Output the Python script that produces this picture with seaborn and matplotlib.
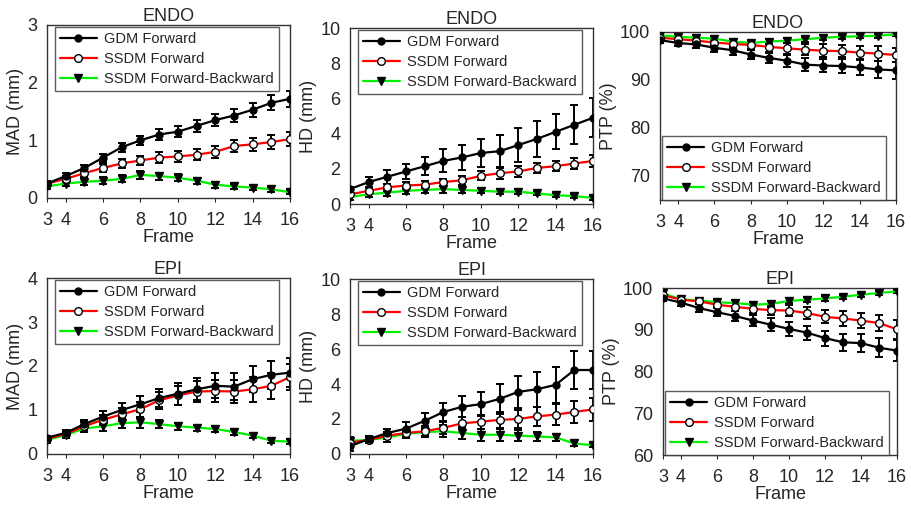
import numpy as np
import pandas as pd
import matplotlib
matplotlib.use('Agg')
import matplotlib.pyplot as plt
from matplotlib.lines import Line2D
import seaborn as sns

sns.set_style('white')
plt.rcParams['font.family'] = ['Liberation Sans', 'DejaVu Sans']

frames = list(range(3, 17))
methods = ['GDM Forward', 'SSDM Forward', 'SSDM Forward-Backward']

# ---- ENDO MAD ----
endo_mad_gdm = [0.25, 0.38, 0.52, 0.70, 0.88, 1.00, 1.10, 1.15, 1.25, 1.35, 1.43, 1.53, 1.65, 1.72]
endo_mad_gdm_err = [0.04, 0.05, 0.06, 0.07, 0.08, 0.08, 0.09, 0.09, 0.10, 0.10, 0.11, 0.12, 0.13, 0.14]
endo_mad_sf = [0.25, 0.33, 0.43, 0.52, 0.60, 0.65, 0.70, 0.72, 0.75, 0.80, 0.90, 0.93, 0.97, 1.02]
endo_mad_sf_err = [0.04, 0.05, 0.06, 0.07, 0.08, 0.08, 0.09, 0.09, 0.10, 0.10, 0.11, 0.11, 0.12, 0.12]
endo_mad_sfb = [0.20, 0.25, 0.28, 0.30, 0.33, 0.40, 0.38, 0.35, 0.30, 0.23, 0.20, 0.18, 0.15, 0.10]
endo_mad_sfb_err = [0.04, 0.05, 0.06, 0.06, 0.06, 0.07, 0.06, 0.06, 0.05, 0.05, 0.05, 0.04, 0.04, 0.03]

# ---- ENDO HD ----
endo_hd_gdm = [0.85, 1.25, 1.55, 1.85, 2.15, 2.45, 2.65, 2.90, 3.00, 3.35, 3.70, 4.10, 4.50, 4.90]
endo_hd_gdm_err = [0.10, 0.30, 0.40, 0.45, 0.50, 0.65, 0.70, 0.80, 0.90, 0.95, 1.00, 1.00, 1.10, 1.10]
endo_hd_sf = [0.55, 0.75, 0.95, 1.05, 1.10, 1.25, 1.35, 1.60, 1.75, 1.85, 2.05, 2.15, 2.30, 2.45]
endo_hd_sf_err = [0.10, 0.15, 0.20, 0.20, 0.20, 0.20, 0.25, 0.25, 0.30, 0.30, 0.30, 0.30, 0.30, 0.35]
endo_hd_sfb = [0.40, 0.55, 0.65, 0.75, 0.80, 0.85, 0.80, 0.75, 0.70, 0.70, 0.60, 0.50, 0.45, 0.35]
endo_hd_sfb_err = [0.15, 0.15, 0.20, 0.20, 0.20, 0.20, 0.20, 0.15, 0.15, 0.15, 0.10, 0.10, 0.10, 0.10]

# ---- ENDO PTP ----
endo_ptp_gdm = [98.3, 97.7, 97.4, 96.7, 96.2, 95.3, 94.6, 94.0, 93.2, 93.0, 92.9, 92.6, 92.2, 92.0]
endo_ptp_gdm_err = [0.5, 0.6, 0.7, 0.8, 0.9, 1.0, 1.1, 1.2, 1.4, 1.4, 1.5, 1.6, 1.7, 1.8]
endo_ptp_sf = [98.8, 98.5, 98.2, 97.8, 97.5, 97.3, 96.9, 96.6, 96.3, 96.1, 96.0, 95.7, 95.5, 95.2]
endo_ptp_sf_err = [0.4, 0.5, 0.6, 0.7, 0.8, 0.9, 1.0, 1.1, 1.2, 1.3, 1.3, 1.4, 1.5, 1.5]
endo_ptp_sfb = [99.3, 99.0, 98.8, 98.6, 98.0, 97.7, 98.0, 98.2, 98.5, 98.8, 99.0, 99.1, 99.2, 99.5]
endo_ptp_sfb_err = [0.4, 0.5, 0.5, 0.5, 0.6, 0.6, 0.6, 0.6, 0.5, 0.5, 0.4, 0.4, 0.4, 0.3]

# ---- EPI MAD ----
epi_mad_gdm = [0.37, 0.48, 0.68, 0.85, 1.00, 1.13, 1.27, 1.37, 1.47, 1.55, 1.53, 1.70, 1.80, 1.85]
epi_mad_gdm_err = [0.05, 0.07, 0.10, 0.12, 0.15, 0.18, 0.20, 0.25, 0.25, 0.28, 0.30, 0.30, 0.32, 0.33]
epi_mad_sf = [0.35, 0.45, 0.63, 0.78, 0.90, 1.02, 1.22, 1.33, 1.42, 1.43, 1.42, 1.47, 1.55, 1.75]
epi_mad_sf_err = [0.05, 0.07, 0.09, 0.11, 0.14, 0.17, 0.20, 0.22, 0.24, 0.25, 0.26, 0.28, 0.30, 0.30]
epi_mad_sfb = [0.32, 0.43, 0.58, 0.63, 0.70, 0.72, 0.68, 0.63, 0.60, 0.57, 0.50, 0.42, 0.30, 0.28]
epi_mad_sfb_err = [0.06, 0.07, 0.09, 0.10, 0.11, 0.12, 0.09, 0.08, 0.07, 0.07, 0.06, 0.06, 0.05, 0.06]

# ---- EPI HD ----
epi_hd_gdm = [0.45, 0.85, 1.20, 1.45, 1.90, 2.40, 2.70, 2.85, 3.15, 3.55, 3.70, 3.95, 4.80, 4.80]
epi_hd_gdm_err = [0.30, 0.15, 0.25, 0.35, 0.45, 0.50, 0.60, 0.70, 0.85, 0.90, 1.00, 1.05, 1.10, 1.10]
epi_hd_sf = [0.65, 0.80, 1.05, 1.20, 1.30, 1.50, 1.75, 1.85, 1.95, 2.00, 2.15, 2.25, 2.40, 2.55]
epi_hd_sf_err = [0.15, 0.15, 0.20, 0.25, 0.30, 0.35, 0.35, 0.40, 0.45, 0.50, 0.55, 0.60, 0.65, 0.65]
epi_hd_sfb = [0.75, 0.80, 0.95, 1.15, 1.25, 1.30, 1.20, 1.10, 1.10, 1.05, 1.00, 0.95, 0.60, 0.50]
epi_hd_sfb_err = [0.20, 0.20, 0.25, 0.25, 0.30, 0.35, 0.35, 0.35, 0.35, 0.30, 0.25, 0.20, 0.15, 0.10]

# ---- EPI PTP ----
epi_ptp_gdm = [97.5, 96.5, 95.2, 94.2, 93.3, 92.2, 91.2, 90.2, 89.3, 88.0, 87.0, 86.8, 85.7, 85.0]
epi_ptp_gdm_err = [0.5, 0.7, 0.9, 1.0, 1.1, 1.3, 1.5, 1.6, 1.7, 1.8, 2.0, 2.1, 2.3, 2.5]
epi_ptp_sf = [98.3, 97.2, 96.8, 96.0, 95.5, 95.0, 94.7, 94.6, 94.0, 93.1, 92.7, 92.2, 91.6, 90.1]
epi_ptp_sf_err = [0.4, 0.5, 0.7, 0.8, 0.9, 1.0, 1.2, 1.3, 1.5, 1.6, 1.7, 1.8, 2.0, 2.2]
epi_ptp_sfb = [98.7, 97.3, 97.0, 96.6, 96.4, 96.0, 96.2, 96.9, 97.2, 97.5, 97.9, 98.4, 98.8, 99.2]
epi_ptp_sfb_err = [0.5, 0.6, 0.6, 0.7, 0.7, 0.7, 0.7, 0.6, 0.6, 0.6, 0.5, 0.5, 0.4, 0.4]

line_colors = {'GDM Forward': 'black', 'SSDM Forward': '#ff0000', 'SSDM Forward-Backward': '#00ee00'}
marker_style = {
    'GDM Forward': dict(marker='o', mfc='black', mec='black', ms=5),
    'SSDM Forward': dict(marker='o', mfc='white', mec='black', ms=5.5),
    'SSDM Forward-Backward': dict(marker='v', mfc='black', mec='black', ms=5.5),
}

panels = [
    # title, ylabel, ylim, yticks, data, position, legend loc
    ('ENDO', 'MAD (mm)', (0, 3), [0, 1, 2, 3],
     [(endo_mad_gdm, endo_mad_gdm_err), (endo_mad_sf, endo_mad_sf_err), (endo_mad_sfb, endo_mad_sfb_err)],
     [0.0515, 0.608, 0.2665, 0.3425], 'upper'),
    ('ENDO', 'HD (mm)', (0, 10), [0, 2, 4, 6, 8, 10],
     [(endo_hd_gdm, endo_hd_gdm_err), (endo_hd_sf, endo_hd_sf_err), (endo_hd_sfb, endo_hd_sfb_err)],
     [0.3838, 0.596, 0.2664, 0.3485], 'upper'),
    ('ENDO', 'PTP (%)', (65, 100), [70, 80, 90, 100],
     [(endo_ptp_gdm, endo_ptp_gdm_err), (endo_ptp_sf, endo_ptp_sf_err), (endo_ptp_sfb, endo_ptp_sfb_err)],
     [0.7237, 0.604, 0.2588, 0.3327], 'lower'),
    ('EPI', 'MAD (mm)', (0, 4), [0, 1, 2, 3, 4],
     [(epi_mad_gdm, epi_mad_gdm_err), (epi_mad_sf, epi_mad_sf_err), (epi_mad_sfb, epi_mad_sfb_err)],
     [0.0515, 0.101, 0.2665, 0.3485], 'upper'),
    ('EPI', 'HD (mm)', (0, 10), [0, 2, 4, 6, 8, 10],
     [(epi_hd_gdm, epi_hd_gdm_err), (epi_hd_sf, epi_hd_sf_err), (epi_hd_sfb, epi_hd_sfb_err)],
     [0.3838, 0.101, 0.2664, 0.3465], 'upper'),
    ('EPI', 'PTP (%)', (60, 100), [60, 70, 80, 90, 100],
     [(epi_ptp_gdm, epi_ptp_gdm_err), (epi_ptp_sf, epi_ptp_sf_err), (epi_ptp_sfb, epi_ptp_sfb_err)],
     [0.727, 0.099, 0.2566, 0.3307], 'lower'),
]

fig = plt.figure(figsize=(9.12, 5.05), dpi=100)

for title, ylabel, ylim, yticks, series, pos, legloc in panels:
    ax = fig.add_axes(pos)
    rows = []
    for m, (vals, errs) in zip(methods, series):
        for f, v, e in zip(frames, vals, errs):
            rows.append({'Frame': f, 'value': v, 'err': e, 'method': m})
    df = pd.DataFrame(rows)
    # draw back to front: green, red, black
    for m in methods[::-1]:
        d = df[df['method'] == m]
        ax.errorbar(d['Frame'], d['value'], yerr=d['err'], fmt='none', ecolor='black',
                    elinewidth=1.4, capsize=3, capthick=1.4, zorder=2)
        sns.lineplot(data=d, x='Frame', y='value', color=line_colors[m], lw=1.6,
                     ax=ax, legend=False, zorder=3)
        ax.plot(d['Frame'], d['value'], ls='none', zorder=4, **marker_style[m])
    ax.set_xlim(3, 16)
    ax.set_ylim(*ylim)
    ax.set_xticks([3, 4, 6, 8, 10, 12, 14, 16])
    ax.set_yticks(yticks)
    ax.tick_params(axis='x', labelsize=13, length=3, direction='out', pad=7, bottom=True)
    ax.tick_params(axis='y', labelsize=13, length=0, pad=7, left=False)
    ax.set_xlabel('Frame', fontsize=13, labelpad=0)
    ax.set_ylabel(ylabel, fontsize=13, labelpad=2)
    ax.set_title(title, fontsize=13, pad=3)
    for s in ax.spines.values():
        s.set_color('#333333')
        s.set_linewidth(1.0)

    handles = [Line2D([0], [0], color=line_colors[m], lw=1.6, **marker_style[m]) for m in methods]
    if legloc == 'upper':
        anchor, loc = (0.033, 0.99), 'upper left'
    else:
        anchor, loc = (0.01, 0.0), 'lower left'
    leg = ax.legend(handles, methods, loc=loc, bbox_to_anchor=anchor,
                    fontsize=10.5, frameon=True, fancybox=False, borderpad=0.35,
                    labelspacing=0.42, handlelength=2.5, handletextpad=0.5,
                    borderaxespad=0)
    leg.get_frame().set_edgecolor('#333333')
    leg.get_frame().set_linewidth(1.0)

fig.savefig('out.png', dpi=100)
